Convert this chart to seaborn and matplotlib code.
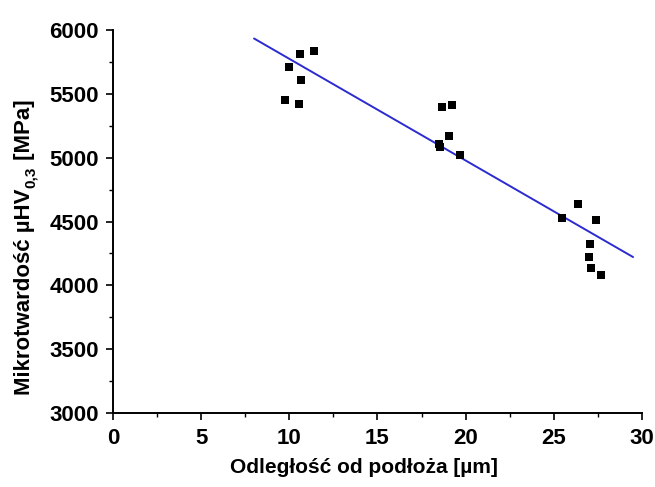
import matplotlib
matplotlib.use("Agg")
import matplotlib.pyplot as plt
from matplotlib.ticker import MultipleLocator
from matplotlib.transforms import IdentityTransform
import seaborn as sns
import pandas as pd

# distance from substrate [µm]
distance = [9.76, 10.0, 10.55, 10.61, 10.66, 11.42,
            18.51, 18.55, 18.64, 19.06, 19.21, 19.68,
            25.45, 26.39, 26.98, 27.07, 27.13, 27.4, 27.68]
# microhardness [MPa]
hardness = [5450, 5710, 5420, 5815, 5610, 5840,
            5110, 5085, 5395, 5170, 5415, 5025,
            4530, 4635, 4220, 4325, 4140, 4510, 4080]
# fitted line end points
fit_x = [8.0, 29.5]
fit_y = [5935, 4222]

x_ticks = [0, 5, 10, 15, 20, 25, 30]
y_ticks = [3000, 3500, 4000, 4500, 5000, 5500, 6000]

x_label = "Odległość od podłoża [µm]"
y_label_parts = ["Mikrotwardość µHV", "0,3", " [MPa]"]

sns.set_style("ticks")
plt.rcParams['font.family'] = ['Liberation Sans', 'DejaVu Sans']
plt.rcParams['font.weight'] = 'bold'
plt.rcParams['text.color'] = 'black'
plt.rcParams['axes.labelcolor'] = 'black'

df = pd.DataFrame({"x": distance, "y": hardness})
line_df = pd.DataFrame({"x": fit_x, "y": fit_y})

fig = plt.figure(figsize=(6.55, 4.87), dpi=100)
ax = fig.add_axes([0.1725, 0.152, 0.8075, 0.786])

sns.lineplot(data=line_df, x="x", y="y", ax=ax, color="#2b2bd0", linewidth=1.4)
sns.scatterplot(data=df, x="x", y="y", ax=ax, marker="s", s=38, color="black",
                edgecolor="black", linewidth=0, zorder=3)

ax.set_xlim(0, 30)
ax.set_ylim(3000, 6000)
ax.set_xticks(x_ticks)
ax.set_yticks(y_ticks)
ax.xaxis.set_minor_locator(MultipleLocator(2.5))
ax.yaxis.set_minor_locator(MultipleLocator(250))
ax.tick_params(axis='both', which='major', direction='out', length=5, width=1.2,
               labelsize=16, color='black', labelcolor='black')
ax.tick_params(axis='x', which='major', pad=6)
ax.tick_params(axis='y', which='major', pad=5)
ax.tick_params(axis='both', which='minor', direction='out', length=3, width=1.0, color='black')
for lbl in ax.get_xticklabels() + ax.get_yticklabels():
    lbl.set_fontweight('bold')

for s in ['top', 'right']:
    ax.spines[s].set_visible(False)
for s in ['left', 'bottom']:
    ax.spines[s].set_linewidth(1.4)
    ax.spines[s].set_color('black')

ax.set_xlabel(x_label, fontsize=15, fontweight='bold', color='black')
ax.xaxis.set_label_coords(0.474, -0.117)
ax.set_ylabel("")

# y label composed of pieces (with subscript), placed in pixel coordinates
renderer = fig.canvas.get_renderer()
ident = IdentityTransform()
base_x = 30.0
cur_y = 92.0
sizes = [16, 11, 16]
shifts = [0.0, 5.0, 0.0]
for part, fs, sh in zip(y_label_parts, sizes, shifts):
    t = fig.text(base_x + sh, cur_y, part, transform=ident, rotation=90,
                 rotation_mode='anchor', ha='left', va='baseline',
                 fontsize=fs, fontweight='bold', color='black')
    bb = t.get_window_extent(renderer)
    cur_y = bb.y1 + 0.5

fig.savefig("out.png", dpi=100)
